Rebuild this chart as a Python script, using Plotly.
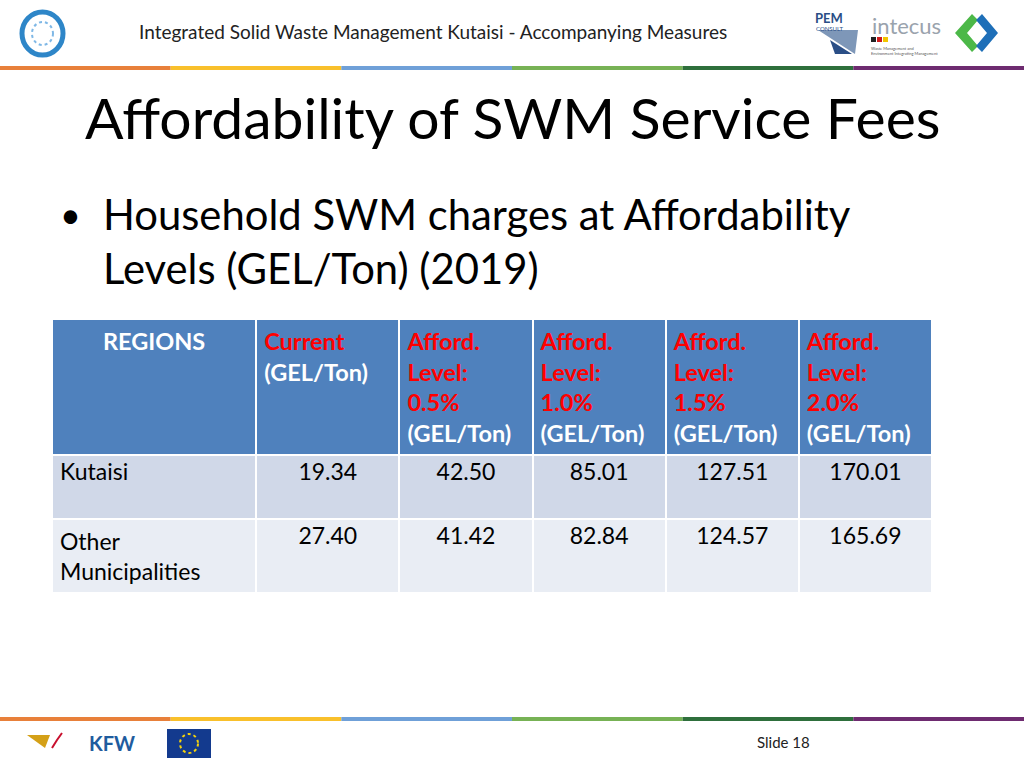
import plotly.graph_objects as go

# ---------------- data ----------------
regions = ["Kutaisi", "Other<br>Municipalities"]
current_fee = [19.34, 27.40]
afford_levels = ["0.5%", "1.0%", "1.5%", "2.0%"]
afford_05 = [42.50, 41.42]
afford_10 = [85.01, 82.84]
afford_15 = [127.51, 124.57]
afford_20 = [170.01, 165.69]

header_title = "Integrated Solid Waste Management Kutaisi - Accompanying Measures"
slide_title = "Affordability of SWM Service Fees"
bullet_lines = ["Household SWM charges at Affordability", "Levels (GEL/Ton) (2019)"]
slide_label = "Slide 18"

W, H = 1024, 768
RED = "#FF0000"
FONT = "Lato"


def py(p):
    return 1 - p / H


def px(p):
    return p / W


# ---------------- table ----------------
hdr = ["<b>REGIONS</b>",
       f"<b><span style='color:{RED}'>Current</span></b><br><b>(GEL/Ton)</b>"]
for lvl in afford_levels:
    hdr.append(f"<b><span style='color:{RED}'>Afford.</span></b><br>"
               f"<b><span style='color:{RED}'>Level:</span></b><br>"
               f"<b><span style='color:{RED}'>{lvl}</span></b><br><b>(GEL/Ton)</b>")

cols = [regions] + [[f"{v:.2f}" for v in c] for c in
                    (current_fee, afford_05, afford_10, afford_15, afford_20)]

row_fill = ["#D0D8E8", "#E9EDF4"]

fig = go.Figure()
fig.add_trace(go.Table(
    domain=dict(x=[px(52), px(932)], y=[0.0, py(319)]),
    columnwidth=[204, 143, 133, 133, 133, 133],
    header=dict(values=hdr, fill_color="#4F81BD",
                line=dict(color="white", width=2),
                align=["center", "left", "left", "left", "left", "left"],
                font=dict(family=FONT, size=23.5, color="white"),
                height=132),
    cells=dict(values=cols,
               fill_color=[row_fill] * 6,
               line=dict(color="white", width=2),
               align=["left", "center", "center", "center", "center", "center"],
               font=dict(family=FONT, size=23, color="black"),
               height=64),
))

# ---------------- decoration ----------------
shapes = []
bar_colors = ["#E8803A", "#F9C02B", "#6FA0D8", "#77B255", "#2E6F3C", "#6E2B70"]
seg = W / len(bar_colors)
for yy0, yy1 in [(66, 70), (717, 721)]:
    for i, c in enumerate(bar_colors):
        shapes.append(dict(type="rect", xref="paper", yref="paper",
                           x0=px(i * seg), x1=px((i + 1) * seg),
                           y0=py(yy1), y1=py(yy0), fillcolor=c, line_width=0))

# left logo
shapes.append(dict(type="circle", xref="paper", yref="paper",
                   x0=px(22), x1=px(63), y0=py(55), y1=py(12),
                   line=dict(color="#2E86C8", width=5)))
shapes.append(dict(type="circle", xref="paper", yref="paper",
                   x0=px(32), x1=px(53), y0=py(45), y1=py(22),
                   line=dict(color="#7FB8E6", width=2, dash="dot")))
# PEM logo triangles
shapes.append(dict(type="path", xref="paper", yref="paper",
                   path=f"M {px(818)} {py(30)} L {px(858)} {py(30)} L {px(855)} {py(54)} Z",
                   fillcolor="#7E97B8", line_width=0))
shapes.append(dict(type="path", xref="paper", yref="paper",
                   path=f"M {px(830)} {py(40)} L {px(852)} {py(54)} L {px(835)} {py(54)} Z",
                   fillcolor="#2A4E86", line_width=0))
# intecus flag stripes
for i, c in enumerate(["#222222", "#D01C1C", "#F2C500"]):
    shapes.append(dict(type="rect", xref="paper", yref="paper",
                       x0=px(871 + i * 6), x1=px(876 + i * 6), y0=py(42), y1=py(37),
                       fillcolor=c, line_width=0))
# G logo
shapes.append(dict(type="path", xref="paper", yref="paper",
                   path=f"M {px(972)} {py(14)} L {px(955)} {py(33)} L {px(972)} {py(52)} L {px(978)} {py(46)} L {px(967)} {py(33)} L {px(978)} {py(20)} Z",
                   fillcolor="#4CB848", line_width=0))
shapes.append(dict(type="path", xref="paper", yref="paper",
                   path=f"M {px(982)} {py(14)} L {px(998)} {py(33)} L {px(982)} {py(52)} L {px(976)} {py(46)} L {px(987)} {py(33)} L {px(976)} {py(20)} Z",
                   fillcolor="#1E6FB8", line_width=0))
# EU flag
shapes.append(dict(type="rect", xref="paper", yref="paper",
                   x0=px(167), x1=px(211), y0=py(758), y1=py(729),
                   fillcolor="#133A8E", line_width=0))
shapes.append(dict(type="circle", xref="paper", yref="paper",
                   x0=px(180), x1=px(198), y0=py(753), y1=py(734),
                   line=dict(color="#F5D20A", width=2, dash="dot")))
# german logo
shapes.append(dict(type="path", xref="paper", yref="paper",
                   path=f"M {px(27)} {py(735)} L {px(50)} {py(735)} L {px(45)} {py(748)} Z",
                   fillcolor="#D4A017", line_width=0))
shapes.append(dict(type="path", xref="paper", yref="paper",
                   path=f"M {px(52)} {py(748)} L {px(57)} {py(740)} L {px(62)} {py(733)}",
                   line=dict(color="#C8102E", width=2)))

annotations = [
    dict(text=header_title, x=px(137), y=py(32), xanchor="left", yanchor="middle",
         font=dict(family=FONT, size=19, color="#222222")),
    dict(text=slide_title, x=px(83), y=py(117), xanchor="left", yanchor="middle",
         font=dict(family=FONT, size=57, color="black", weight=400)),
    dict(text="•", x=px(58), y=py(214), xanchor="left", yanchor="middle",
         font=dict(family=FONT, size=36, color="black")),
    dict(text=bullet_lines[0], x=px(101), y=py(214), xanchor="left", yanchor="middle",
         font=dict(family=FONT, size=41.8, color="black")),
    dict(text=bullet_lines[1], x=px(101), y=py(268), xanchor="left", yanchor="middle",
         font=dict(family=FONT, size=41.8, color="black")),
    dict(text="<b>PEM</b>", x=px(829), y=py(18), xanchor="center", yanchor="middle",
         font=dict(family=FONT, size=13, color="#2A4E86")),
    dict(text="CONSULT", x=px(829), y=py(28), xanchor="center", yanchor="middle",
         font=dict(family=FONT, size=6, color="#2A4E86")),
    dict(text="intecus", x=px(906), y=py(25), xanchor="center", yanchor="middle",
         font=dict(family=FONT, size=22, color="#9AA3AD")),
    dict(text="Waste Management and<br>Environment Integrating Management", x=px(869), y=py(51),
         xanchor="left", yanchor="middle", align="left",
         font=dict(family=FONT, size=4, color="#555555")),
    dict(text="<b>KFW</b>", x=px(112), y=py(743), xanchor="center", yanchor="middle",
         font=dict(family=FONT, size=20, color="#1F5C9E")),
    dict(text=slide_label, x=px(783), y=py(742), xanchor="center", yanchor="middle",
         font=dict(family=FONT, size=15, color="#222222")),
]
for a in annotations:
    a.update(xref="paper", yref="paper", showarrow=False)

fig.update_layout(width=W, height=H, margin=dict(l=0, r=0, t=0, b=0),
                  paper_bgcolor="white", plot_bgcolor="white",
                  shapes=shapes, annotations=annotations, showlegend=False)

fig.write_html("out.html", config={"displayModeBar": False},
               post_script="document.body.style.margin='0';")
